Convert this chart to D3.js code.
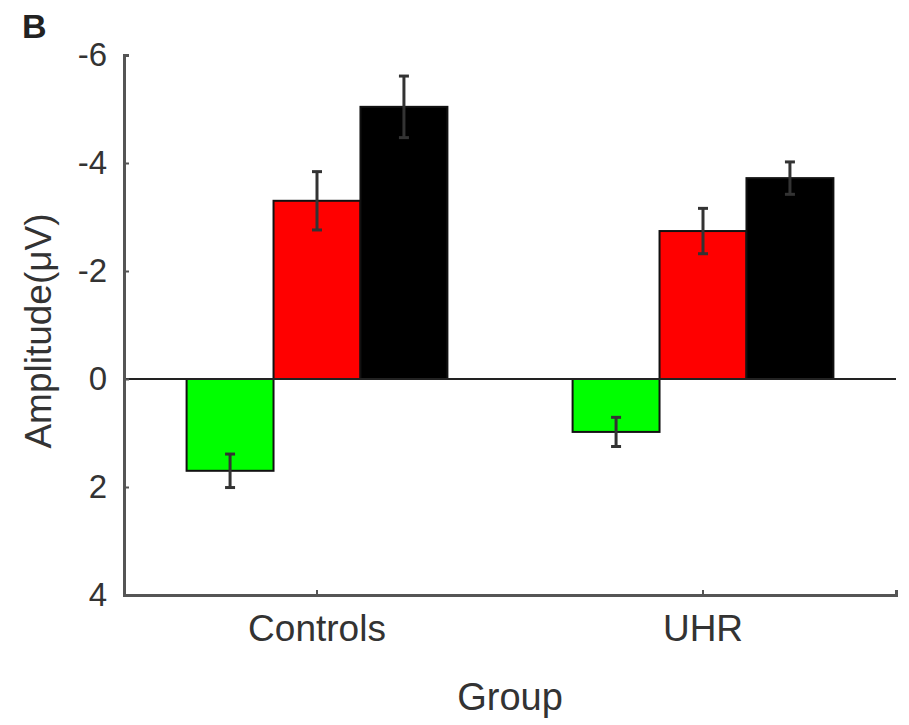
<!DOCTYPE html>
<html>
<head>
<meta charset="utf-8">
<script src="https://cdn.jsdelivr.net/npm/d3@7"></script>
<style>
  body { margin: 0; background: #fff; }
  text { font-family: "Liberation Sans", Arial, sans-serif; fill: #333; }
</style>
</head>
<body>
<div id="chart"></div>
<script>
// groups and conditions
const groups = ["Controls", "UHR"];
const conditions = ["green", "red", "black"];
const barColors = ["#00ff00", "#ff0000", "#000000"];

// amplitude means (µV) and error, per group, in condition order
const controlsMeans = [1.70, -3.30, -5.04];
const controlsErr = [0.31, 0.54, 0.57];
const uhrMeans = [0.98, -2.74, -3.72];
const uhrErr = [0.27, 0.42, 0.30];

const yTicks = [-6, -4, -2, 0, 2, 4];

const data = [];
groups.forEach((g, gi) => {
  const means = gi === 0 ? controlsMeans : uhrMeans;
  const errs = gi === 0 ? controlsErr : uhrErr;
  conditions.forEach((c, ci) => {
    data.push({ group: g, cond: c, value: means[ci], err: errs[ci], color: barColors[ci] });
  });
});

const W = 909, H = 725;
const margin = { top: 55, right: 13, bottom: 130, left: 124 };
const width = W - margin.left - margin.right;
const height = H - margin.top - margin.bottom;

const svg = d3.select("#chart")
  .append("svg")
  .attr("width", W)
  .attr("height", H);

const g = svg.append("g")
  .attr("transform", `translate(${margin.left},${margin.top})`);

// y is inverted: negative at top
const y = d3.scaleLinear().domain([-6, 4]).range([0, height]);

const x0 = d3.scaleBand().domain(groups).range([0, width]).padding(0);
const x1 = d3.scaleBand().domain(conditions).range([0, x0.bandwidth()])
  .paddingInner(0).paddingOuter(0.72);

// bars
g.selectAll(".bar")
  .data(data)
  .enter()
  .append("rect")
  .attr("class", "bar")
  .attr("x", d => x0(d.group) + x1(d.cond))
  .attr("y", d => Math.min(y(0), y(d.value)))
  .attr("width", x1.bandwidth())
  .attr("height", d => Math.abs(y(d.value) - y(0)))
  .attr("fill", d => d.color)
  .attr("stroke", "#111")
  .attr("stroke-width", 2);

// error bars
const errG = g.selectAll(".err")
  .data(data)
  .enter()
  .append("g")
  .attr("class", "err")
  .attr("transform", d => `translate(${x0(d.group) + x1(d.cond) + x1.bandwidth() / 2},0)`);

errG.append("line")
  .attr("y1", d => y(d.value - d.err))
  .attr("y2", d => y(d.value + d.err))
  .attr("stroke", "#333")
  .attr("stroke-width", 3);

errG.append("line")
  .attr("x1", -5).attr("x2", 5)
  .attr("y1", d => y(d.value - d.err))
  .attr("y2", d => y(d.value - d.err))
  .attr("stroke", "#333")
  .attr("stroke-width", 3);

errG.append("line")
  .attr("x1", -5).attr("x2", 5)
  .attr("y1", d => y(d.value + d.err))
  .attr("y2", d => y(d.value + d.err))
  .attr("stroke", "#333")
  .attr("stroke-width", 3);

// zero line
g.append("line")
  .attr("x1", 0).attr("x2", width)
  .attr("y1", y(0)).attr("y2", y(0))
  .attr("stroke", "#222")
  .attr("stroke-width", 2);

// y axis, ticks pointing inward
const yAxis = g.append("g")
  .call(d3.axisLeft(y).tickValues(yTicks).tickSize(-5).tickPadding(17).tickFormat(d3.format("d")));
yAxis.select(".domain").attr("stroke", "#555").attr("stroke-width", 3);
yAxis.selectAll(".tick line").attr("stroke", "#555").attr("stroke-width", 2);
yAxis.selectAll(".tick text").style("font-size", "33px").attr("fill", "#333")
  .text(d => d < 0 ? "-" + Math.abs(d) : d);

// x axis, ticks pointing up
const xAxis = g.append("g")
  .attr("transform", `translate(0,${height})`)
  .call(d3.axisBottom(x0).tickSize(-5).tickPadding(20));
xAxis.select(".domain").attr("stroke", "#555").attr("stroke-width", 3);
xAxis.selectAll(".tick text").style("font-size", "37px").attr("fill", "#333");
xAxis.selectAll(".tick line").attr("stroke", "#555").attr("stroke-width", 2);

// axis titles
svg.append("text")
  .attr("x", 510)
  .attr("y", 710)
  .attr("text-anchor", "middle")
  .style("font-size", "38px")
  .text("Group");

svg.append("text")
  .attr("transform", "translate(51,331) rotate(-90)")
  .attr("text-anchor", "middle")
  .style("font-size", "37px")
  .text("Amplitude(μV)");

// panel letter
svg.append("text")
  .attr("x", 22)
  .attr("y", 38)
  .style("font-size", "34px")
  .style("font-weight", "bold")
  .style("fill", "#222")
  .text("B");
</script>
</body>
</html>
